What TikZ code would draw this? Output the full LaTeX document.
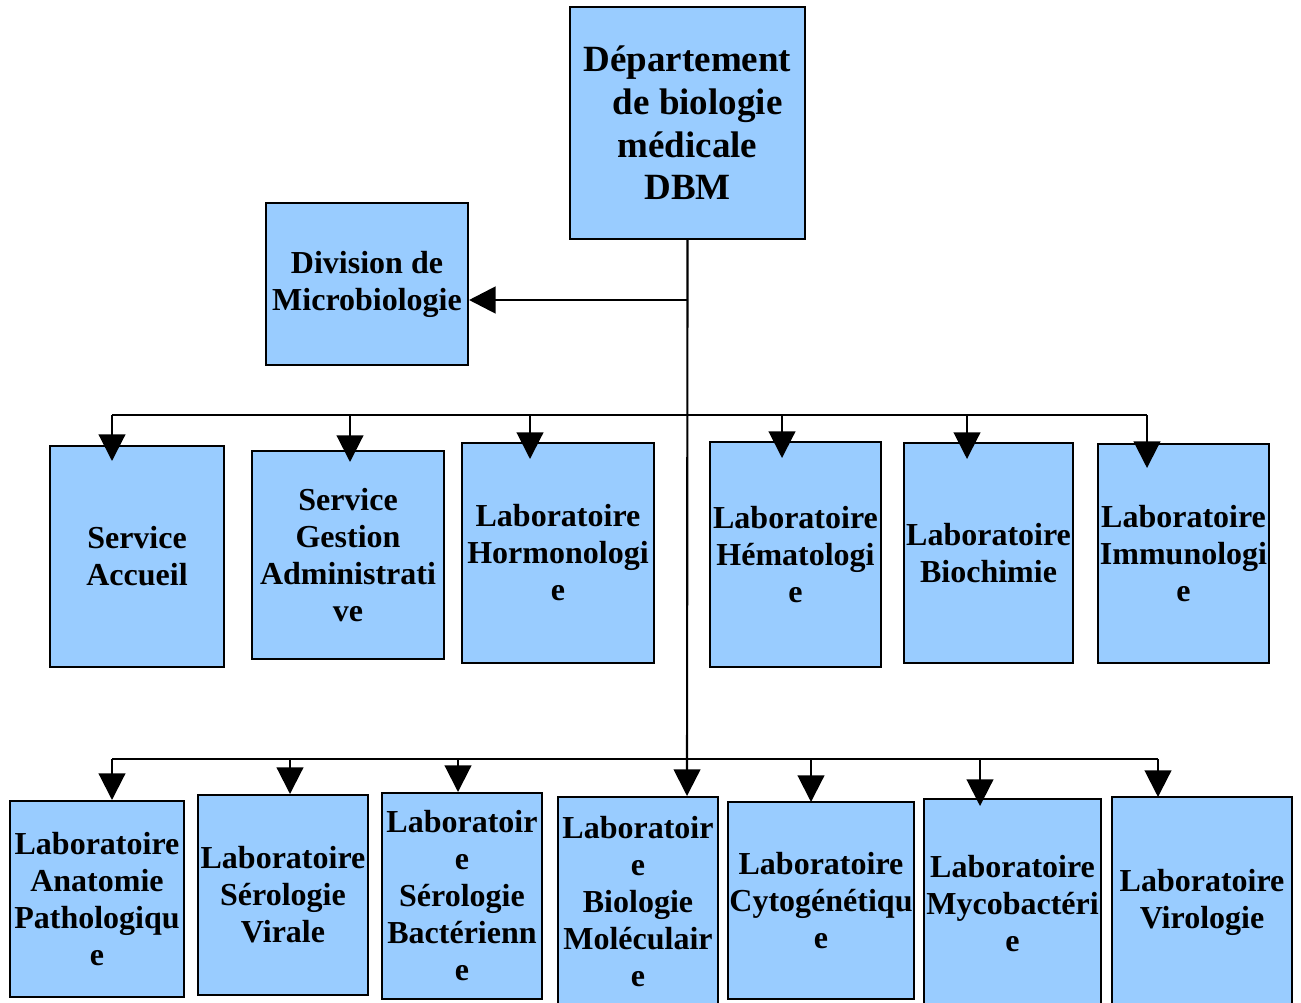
\documentclass[tikz,border=0pt]{standalone}
\usepackage{fontspec}
\setmainfont{Liberation Serif}
\usetikzlibrary{arrows.meta}
\definecolor{boxblue}{RGB}{153,204,255}
\begin{document}
\begin{tikzpicture}[x=0.75pt,y=-0.75pt,
  box/.style={draw=black, line width=1.5pt, fill=boxblue, inner sep=0pt,
    align=center, font=\bfseries\fontsize{24}{27.75}\selectfont},
  dim/.style 2 args={minimum width={#1*0.75pt}, minimum height={#2*0.75pt}},
  link/.style={line width=1.6pt},
  arr/.style={link, -{Triangle[length=20pt,width=20pt]}}]
\useasboundingbox (0,0) rectangle (1301,1002);

% head of the department
\node[box, dim={235}{232}, font=\bfseries\fontsize{27.75}{32}\selectfont]
  (dbm) at (687.5,123) {Département\\\hspace*{0.55em}de biologie\\médicale\\DBM};
\node[box, dim={202}{162}] (div) at (367,284) {Division de\\Microbiologie};

% second level
\node[box, dim={174}{221}] (acc) at (137,556.5) {Service\\Accueil};
\node[box, dim={192}{208}] (ges) at (348,555) {Service\\Gestion\\Administrati\\ve};
\node[box, dim={192}{220}] (hor) at (558,553) {Laboratoire\\Hormonologi\\e};
\node[box, dim={171}{225}] (hem) at (795.5,554.5) {Laboratoire\\Hématologi\\e};
\node[box, dim={169}{220}] (bio) at (988.5,553) {Laboratoire\\Biochimie};
\node[box, dim={171}{219}] (imm) at (1183.5,553.5) {Laboratoire\\Immunologi\\e};

% third level
\node[box, dim={174}{196}] (ana) at (97,899) {Laboratoire\\Anatomie\\Pathologiqu\\e};
\node[box, dim={170}{200}] (ser) at (283,895) {Laboratoire\\Sérologie\\Virale};
\node[box, dim={160}{206}] (bac) at (462,896) {Laboratoir\\e\\Sérologie\\Bactérienn\\e};
\node[box, dim={160}{210}] (bm) at (638,902) {Laboratoir\\e\\Biologie\\Moléculair\\e};
\node[box, dim={186}{197}] (cyt) at (821,900.5) {Laboratoire\\Cytogénétiqu\\e};
\node[box, dim={177}{209}] (myc) at (1012.5,903.5) {Laboratoire\\Mycobactéri\\e};
\node[box, dim={180}{210}] (vir) at (1202,902) {Laboratoire\\Virologie};

% junctions and arrow tips
\coordinate (jd) at (687,300);
\coordinate (b2l) at (112,415);
\coordinate (b2r) at (1147,415);
\coordinate (b3l) at (112,759);
\coordinate (b3r) at (1158,759);

\coordinate (tacc) at (112,461);
\coordinate (tges) at (350,462);
\coordinate (thor) at (530,459);
\coordinate (them) at (782,458);
\coordinate (tbio) at (967,459);
\coordinate (timm) at (1147,468);

\coordinate (tana) at (112,800);
\coordinate (tser) at (290,794);
\coordinate (tbac) at (458,792);
\coordinate (tbm)  at (687,796);
\coordinate (tcyt) at (811,802);
\coordinate (tmyc) at (980,806);
\coordinate (tvir) at (1158,797);

% trunk and branches
\draw[arr] (dbm.south) -- (tbm);
\draw[arr, line width=2.2pt] (jd) -- (div.east |- jd);
\draw[link] (b2l) -- (b2r);
\draw[link] (b3l) -- (b3r);

\foreach \t in {tacc,tges,thor,them,tbio,timm}
  \draw[arr] (\t |- b2l) -- (\t);
\foreach \t in {tana,tser,tbac,tcyt,tmyc,tvir}
  \draw[arr] (\t |- b3l) -- (\t);
\end{tikzpicture}
\end{document}
